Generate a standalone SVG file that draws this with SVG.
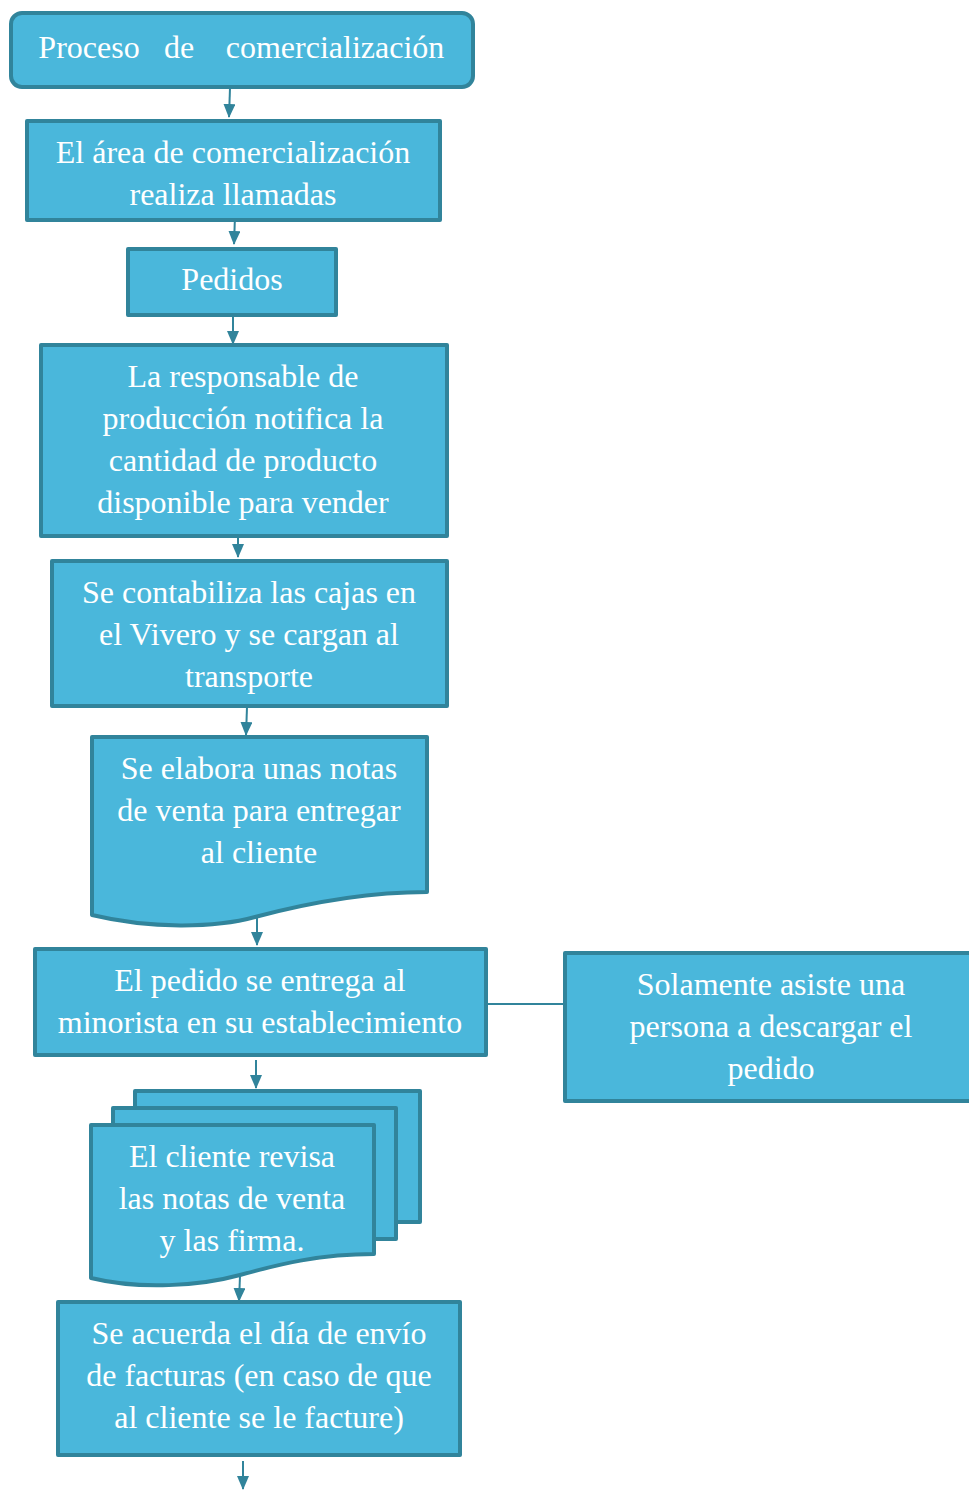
<svg xmlns="http://www.w3.org/2000/svg" width="969" height="1492" viewBox="0 0 969 1492">
<defs>
<style>
.n{fill:#4AB7DB;stroke:#31849B;stroke-width:4;stroke-linejoin:round}
text{font-family:'Liberation Serif','Times New Roman',serif;font-size:32px;fill:#FFFFFF;text-anchor:middle}
.c{stroke:#31849B;stroke-width:2;fill:none}
</style>
<marker id="ah" viewBox="0 0 14 12" refX="13" refY="6" markerWidth="14" markerHeight="12" markerUnits="userSpaceOnUse" orient="auto">
<path d="M0,0 L14,6 L0,12 Z" fill="#31849B"/>
</marker>
</defs>
<rect width="969" height="1492" fill="#FFFFFF"/>
<g id="connectors">
<line class="c" x1="230" y1="88" x2="229" y2="117" marker-end="url(#ah)"/>
<line class="c" x1="235" y1="216" x2="234" y2="244" marker-end="url(#ah)"/>
<line class="c" x1="233" y1="317" x2="233" y2="344" marker-end="url(#ah)"/>
<line class="c" x1="238" y1="530" x2="238" y2="557" marker-end="url(#ah)"/>
<line class="c" x1="247" y1="707" x2="246" y2="735" marker-end="url(#ah)"/>
<line class="c" x1="257" y1="918" x2="257" y2="945" marker-end="url(#ah)"/>
<line class="c" x1="486" y1="1004" x2="565" y2="1004"/>
<line class="c" x1="256" y1="1060" x2="256" y2="1088" marker-end="url(#ah)"/>
<line class="c" x1="240" y1="1276" x2="239" y2="1301" marker-end="url(#ah)"/>
<line class="c" x1="243" y1="1461" x2="243" y2="1489" marker-end="url(#ah)"/>
</g>
<g id="n1">
<rect class="n" x="11" y="13" width="462" height="74" rx="11"/>
<text x="89" y="58">Proceso</text>
<text x="179" y="58">de</text>
<text x="335" y="58">comercialización</text>
</g>
<g id="n2">
<rect class="n" x="27" y="121" width="413" height="99"/>
<text x="233" y="163">El área de comercialización</text>
<text x="233" y="205">realiza llamadas</text>
</g>
<g id="n3">
<rect class="n" x="128" y="249" width="208" height="66"/>
<text x="232" y="290">Pedidos</text>
</g>
<g id="n4">
<rect class="n" x="41" y="345" width="406" height="191"/>
<text x="243" y="387">La responsable de</text>
<text x="243" y="429">producción notifica la</text>
<text x="243" y="471">cantidad de producto</text>
<text x="243" y="513">disponible para vender</text>
</g>
<g id="n5">
<rect class="n" x="52" y="561" width="395" height="145"/>
<text x="249" y="603">Se contabiliza las cajas en</text>
<text x="249" y="645">el Vivero y se cargan al</text>
<text x="249" y="687">transporte</text>
</g>
<g id="n6">
<path class="n" d="M92,737 H427 V892 C360,892 300,905 255,917 C215,928 150,929 92,915 Z"/>
<text x="259" y="779">Se elabora unas notas</text>
<text x="259" y="821">de venta para entregar</text>
<text x="259" y="863">al cliente</text>
</g>
<g id="n7">
<rect class="n" x="35" y="949" width="451" height="106"/>
<text x="260" y="991">El pedido se entrega al</text>
<text x="260" y="1033">minorista en su establecimiento</text>
</g>
<g id="n8">
<rect class="n" x="565" y="953" width="410" height="148"/>
<text x="771" y="995">Solamente asiste una</text>
<text x="771" y="1037">persona a descargar el</text>
<text x="771" y="1079">pedido</text>
</g>
<g id="n9">
<rect class="n" x="135" y="1091" width="285" height="131"/>
<rect class="n" x="113" y="1108" width="283" height="131"/>
<path class="n" d="M91,1125 H374 V1254 C320,1254 280,1264 240,1275 C200,1286 140,1290 91,1278 Z"/>
<text x="232" y="1167">El cliente revisa</text>
<text x="232" y="1209">las notas de venta</text>
<text x="232" y="1251">y las firma.</text>
</g>
<g id="n10">
<rect class="n" x="58" y="1302" width="402" height="153"/>
<text x="259" y="1344">Se acuerda el día de envío</text>
<text x="259" y="1386">de facturas (en caso de que</text>
<text x="259" y="1428">al cliente se le facture)</text>
</g>
</svg>
